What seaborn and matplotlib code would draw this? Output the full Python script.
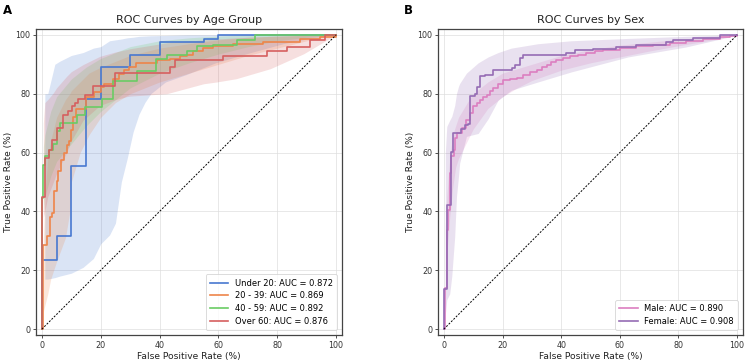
import numpy as np
import pandas as pd
import matplotlib
matplotlib.use("Agg")
import matplotlib.pyplot as plt
import seaborn as sns

# ---------------- data ----------------
age_groups = ["Under 20", "20 - 39", "40 - 59", "Over 60"]
age_auc = [0.872, 0.869, 0.892, 0.876]

# step ROC corners (FPR %, TPR % after jump)
u20_fpr = [0, 0, 5, 10, 15, 20, 30, 40, 55, 60, 100]
u20_tpr = [0, 23.5, 31.5, 55.3, 78.2, 89, 93, 97.7, 98.7, 100, 100]

a2039_fpr = [0, 0.45, 0.45, 1.7, 2.7, 3.4, 4.2, 5.0, 5.5, 6.5, 7.6, 8.7, 9.3, 9.9, 10.6, 11.6, 15, 17.8,
             20.1, 21.2, 24, 26.3, 28, 29.7, 32, 39, 43.5, 47, 49.2, 51.5, 54.9, 58.3, 65, 75.3, 87.8, 94.6, 100]
a2039_tpr = [0, 10, 28.7, 31.7, 38.1, 39.5, 46.8, 50.2, 53.6, 57.6, 59.9, 62.7, 63.8, 67.8, 72.1, 74.9, 78.9, 80.6,
             82.3, 83.4, 85.1, 86.8, 88.2, 89.1, 90.5, 91.3, 91.8, 92.7, 93.3, 94.4, 95.6, 96.1, 96.9, 97.6, 98.6, 99.3, 100]

a4059_fpr = [0, 0, 0.5, 1.0, 2.5, 3.9, 5.0, 6.1, 11.8, 14.6, 20.3, 24.3, 32.2, 38.8, 42.4, 49.2, 52.6, 58.3, 66.2, 72.4, 100]
a4059_tpr = [0, 44.5, 55.9, 58.7, 61, 62.9, 67.2, 70.1, 72.9, 75.4, 78.2, 84.2, 87.6, 91.8, 93.3, 94.4, 96.1, 96.7, 98.2, 100, 100]

o60_fpr = [0, 0, 1.0, 2.5, 3.6, 5.0, 7.2, 9.0, 10.1, 11.2, 12.4, 14.6, 17.5, 24.8, 43.5, 45.2, 61.7, 76.4, 83.2, 91.2, 96.3, 100]
o60_tpr = [0, 45, 58.2, 61, 64.4, 68.4, 72.9, 74, 75.7, 76.9, 78.2, 79.4, 82.5, 87.1, 89.2, 91.4, 92.8, 94.4, 95.9, 98.2, 100, 100]

# confidence bands (FPR grid %, lower %, upper %)
u20_band_fpr = [1, 2, 4.4, 6, 10, 14, 17.5, 20, 23, 25, 27, 29, 31, 33, 35, 37, 42, 49, 59, 71, 82, 92, 100]
u20_band_lo = [17, 17, 17.5, 18, 19, 21, 24, 29, 32, 36, 50, 58, 67, 73, 77, 80, 84, 86.5, 90.5, 94, 97, 99, 100]
u20_band_hi = [80, 80, 90, 91, 93, 94, 95.5, 96, 98, 98.3, 98.6, 99, 99.2, 99.5, 99.6, 99.7, 99.8, 100, 100, 100, 100, 100, 100]

a2039_band_fpr = [0.5, 1, 2, 3, 5, 8, 9.5, 10, 13, 16, 20, 25, 30, 40, 50, 60, 70, 80, 90, 100]
a2039_band_lo = [6, 8, 12, 17, 23, 31, 40, 50, 60, 66, 72, 77, 80, 84, 87, 90, 93, 95.5, 98, 100]
a2039_band_hi = [30, 45, 58, 64, 72, 78, 80, 81, 84, 87, 89, 91, 93, 95.5, 97, 98.3, 99.2, 99.6, 99.9, 100]

a4059_band_fpr = [0.5, 1, 3, 5, 10, 15, 20, 25, 30, 40, 50, 60, 70, 80, 90, 100]
a4059_band_lo = [40, 45, 52, 57, 63, 69, 74, 78, 82, 87, 90.5, 93.5, 96, 98, 99.2, 100]
a4059_band_hi = [62, 66, 74, 79, 85, 89, 92, 94, 96, 98, 99, 99.6, 100, 100, 100, 100]

o60_band_fpr = [0.5, 1, 2, 3.9, 5, 8.4, 10, 14, 19.7, 25, 28.8, 30, 42.4, 55, 59.4, 66, 77.6, 89, 96.8, 100]
o60_band_lo = [38, 40, 45, 50, 53, 60, 64, 71, 76, 78, 79, 79.2, 80, 83.4, 84, 85.1, 88.5, 93.6, 98.2, 100]
o60_band_hi = [70, 77, 78, 80.3, 82, 85.9, 87.5, 89.9, 92.7, 94.2, 95, 95.3, 97.3, 98.3, 98.6, 99, 99.5, 99.8, 100, 100]

sexes = ["Male", "Female"]
sex_auc = [0.890, 0.908]

male_fpr = [0, 0.5, 0.9, 1.5, 2.0, 2.6, 3.3, 3.7, 4.4, 6.1, 7.5, 9.0, 10.1, 11.2, 12.3, 13.5, 14.6, 15.8, 16.9, 18.5,
            20.3, 22.5, 24.8, 27.1, 29.4, 31.6, 33.3, 35, 36.7, 38.4, 40.7, 43, 45.8, 48.6, 51.5, 54.3, 60, 65.6,
            71.3, 77, 82.6, 88.3, 94, 97.5, 100]
male_tpr = [0, 14, 33.8, 40.6, 53, 58.7, 61, 65, 66.7, 68.4, 71, 73.5, 75.7, 76.8, 78, 78.8, 79.7, 80.8, 82, 83.4,
            84.6, 84.9, 85.4, 86.5, 87.3, 88.2, 89, 89.9, 90.7, 91.6, 92.1, 92.7, 93.3, 93.9, 94.4, 95, 95.6, 96.3,
            96.7, 97.3, 97.9, 98.6, 99.3, 99.6, 100]

female_fpr = [0, 0, 1.1, 2.3, 3.2, 5.8, 7.1, 8.3, 9.0, 10.6, 11.2, 12.3, 14.0, 16.9, 23.1, 24.3, 26.0, 27.1, 41.8,
              44.7, 50.9, 58.8, 65.6, 75.9, 78.1, 84.9, 94, 100]
female_tpr = [0, 13.6, 42.3, 60.1, 66.5, 68.1, 69.3, 69.8, 79.1, 80.0, 82.3, 85.9, 86.5, 88.2, 88.8, 89.9, 92.2, 93.0,
              93.9, 94.8, 95.2, 95.9, 96.7, 97.6, 98.2, 99.0, 100, 100]

male_band_fpr = [0.5, 1, 2, 3, 4, 5, 8, 10, 15, 20, 25, 30, 40, 50, 60, 70, 80, 90, 100]
male_band_lo = [10, 25, 38, 48, 55, 58, 64, 68, 75, 79, 82, 84.5, 88, 90.5, 92.5, 94.5, 96.3, 98, 100]
male_band_hi = [35, 45, 58, 66, 69, 72, 77, 80, 84, 87, 88.5, 90, 93, 95, 96.5, 97.5, 98.5, 99.3, 100]

female_band_fpr = [0.5, 1, 2, 2.7, 3.7, 4.3, 5.0, 5.4, 7.7, 11.7, 15.1, 18.5, 23, 32.1, 43.4, 62.8, 82.6, 97.4, 100]
female_band_lo = [5, 10, 12, 18, 31.5, 45, 52, 56.5, 65.5, 66.5, 71.5, 77.8, 81.2, 84, 87.4, 92.5, 95.9, 99.3, 100]
female_band_hi = [60, 68.9, 71, 72.3, 76, 80, 82.5, 83.5, 87, 90.5, 92.5, 94, 95.5, 97, 98, 98.8, 99.5, 100, 100]

# ---------------- plotting ----------------
pal = sns.color_palette("muted")
age_colors = [pal[0], pal[1], pal[2], pal[3]]
sex_colors = [pal[6], pal[4]]

plt.rcParams["font.family"] = ["DejaVu Sans"]

fig = plt.figure(figsize=(7.47, 3.64), dpi=100)
axA = fig.add_axes([36 / 747, 29 / 364, 306 / 747, 306 / 364])
axB = fig.add_axes([438 / 747, 29 / 364, 305 / 747, 306 / 364])


def draw_panel(ax, names, aucs, colors, lines, bands, title):
    for name, auc, col, (fx, ty), (bx, lo, hi) in zip(names, aucs, colors, lines, bands):
        ax.fill_between(bx, lo, hi, color=col, alpha=0.2, linewidth=0)
        df = pd.DataFrame({"fpr": fx, "tpr": ty})
        sns.lineplot(data=df, x="fpr", y="tpr", ax=ax, color=col, sort=False, estimator=None,
                     drawstyle="steps-post", linewidth=1.2,
                     label=f"{name}: AUC = {auc:.3f}")
    ax.plot([0, 100], [0, 100], color="black", linestyle=(0, (2, 1.5)), linewidth=0.7)
    ax.set_xlim(-2, 102)
    ax.set_ylim(-2, 102)
    ax.set_xticks([0, 20, 40, 60, 80, 100])
    ax.set_yticks([0, 20, 40, 60, 80, 100])
    ax.grid(True, color="#dddddd", linewidth=0.6, alpha=0.8)
    ax.set_axisbelow(True)
    ax.tick_params(labelsize=5.8, length=2.5, width=0.6, pad=1.5, colors="#333333")
    for s in ax.spines.values():
        s.set_color("#444444")
        s.set_linewidth(0.9)
    ax.set_xlabel("False Positive Rate (%)", fontsize=6.6, labelpad=2, color="#222222")
    ax.set_ylabel("True Positive Rate (%)", fontsize=6.6, labelpad=2, color="#222222")
    ax.set_title(title, fontsize=8, pad=4, color="#222222")
    leg = ax.legend(loc="lower right", fontsize=6.0, frameon=True, handlelength=2.2,
                    borderpad=0.5, labelspacing=0.45, handletextpad=0.8, borderaxespad=0.6)
    leg.get_frame().set_linewidth(0.6)


draw_panel(axA, age_groups, age_auc, age_colors,
           [(u20_fpr, u20_tpr), (a2039_fpr, a2039_tpr), (a4059_fpr, a4059_tpr), (o60_fpr, o60_tpr)],
           [(u20_band_fpr, u20_band_lo, u20_band_hi), (a2039_band_fpr, a2039_band_lo, a2039_band_hi),
            (a4059_band_fpr, a4059_band_lo, a4059_band_hi), (o60_band_fpr, o60_band_lo, o60_band_hi)],
           "ROC Curves by Age Group")
draw_panel(axB, sexes, sex_auc, sex_colors,
           [(male_fpr, male_tpr), (female_fpr, female_tpr)],
           [(male_band_fpr, male_band_lo, male_band_hi), (female_band_fpr, female_band_lo, female_band_hi)],
           "ROC Curves by Sex")

fig.text(3 / 747, 1 - 4 / 364, "A", fontsize=8.5, fontweight="bold", ha="left", va="top")
fig.text(404 / 747, 1 - 4 / 364, "B", fontsize=8.5, fontweight="bold", ha="left", va="top")

fig.savefig("out.png", dpi=100)
